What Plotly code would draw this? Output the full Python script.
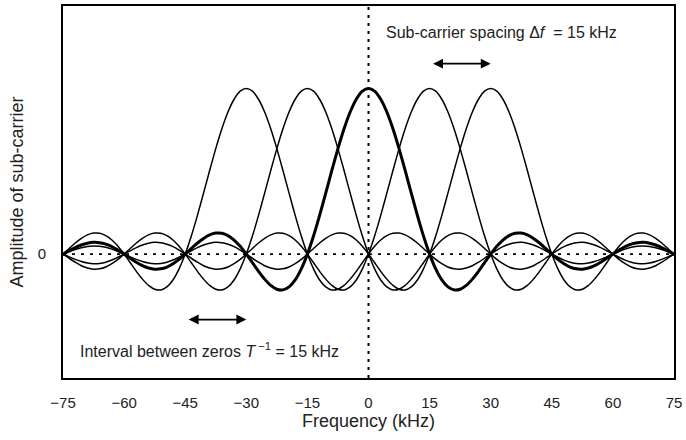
import plotly.graph_objects as go

# ---- data ----
carrier_centres_khz = [-30, -15, 0, 15, 30]
highlighted_centre_khz = 0
pulse_offset_step_khz = 1.5
# amplitude of one sub-carrier (peak = 1) at offsets 0, 1.5, 3, ... 105 kHz from its centre
pulse_amplitude_one_side = [
    1.000, 0.984, 0.935, 0.858, 0.757, 0.637, 0.505, 0.368, 0.234, 0.109,
    0.000, -0.089, -0.156, -0.198, -0.216, -0.212, -0.189, -0.151, -0.104, -0.052,
    0.000, 0.047, 0.085, 0.112, 0.126, 0.127, 0.116, 0.095, 0.067, 0.034,
    0.000, -0.032, -0.058, -0.078, -0.089, -0.091, -0.084, -0.070, -0.049, -0.025,
    0.000, 0.024, 0.045, 0.060, 0.069, 0.071, 0.066, 0.055, 0.039, 0.020,
    0.000, -0.019, -0.036, -0.049, -0.056, -0.058, -0.054, -0.045, -0.032, -0.017,
    0.000, 0.016, 0.030, 0.041, 0.047, 0.049, 0.046, 0.038, 0.028, 0.014,
    0.000,
]
x_tick_values = [-75, -60, -45, -30, -15, 0, 15, 30, 45, 60, 75]
x_tick_labels = ["\u221275", "\u221260", "\u221245", "\u221230", "\u221215",
                 "0", "15", "30", "45", "60", "75"]
spacing_arrow_khz = [15, 30]
zeros_arrow_khz = [-45, -30]

# ---- build symmetric pulse ----
n = len(pulse_amplitude_one_side)
offsets = [-(n - 1 - i) * pulse_offset_step_khz for i in range(n)] + \
          [i * pulse_offset_step_khz for i in range(1, n)]
amps = list(reversed(pulse_amplitude_one_side)) + pulse_amplitude_one_side[1:]

FONT = "Liberation Sans, Arial, sans-serif"
fig = go.Figure()

ordered = [c for c in carrier_centres_khz if c != highlighted_centre_khz] + [highlighted_centre_khz]
for c in ordered:
    thick = c == highlighted_centre_khz
    fig.add_trace(go.Scatter(
        x=[c + o for o in offsets], y=amps, mode="lines",
        line=dict(color="black", width=3 if thick else 1.5, shape="spline", smoothing=0.6),
        hoverinfo="skip", showlegend=False,
    ))

fig.add_hline(y=0, line=dict(color="black", width=1.6, dash="3px,6px"), layer="above")
fig.add_vline(x=0, line=dict(color="black", width=2, dash="3px,5px"), layer="above")

arrow_y_top = 1.15
arrow_y_bottom = -0.395
for (a, b), yy in [(spacing_arrow_khz, arrow_y_top), (zeros_arrow_khz, arrow_y_bottom)]:
    fig.add_annotation(x=b, y=yy, ax=a, ay=yy, xref="x", yref="y", axref="x", ayref="y",
                       text=" ", showarrow=True, arrowside="end+start", arrowhead=2,
                       arrowsize=1.1, arrowwidth=1.8, arrowcolor="black")

fig.add_annotation(x=3.7, y=1.34, xref="x", yref="y", xanchor="left", yanchor="middle",
                   text="Sub-carrier spacing \u0394<i>f</i>  = 15 kHz", showarrow=False,
                   font=dict(family=FONT, size=16, color="#222"))
fig.add_annotation(x=-71.4, y=-0.58, xref="x", yref="y", xanchor="left", yanchor="middle",
                   text="Interval between zeros <i>T</i><sup> \u22121</sup> = 15 kHz", showarrow=False,
                   font=dict(family=FONT, size=16, color="#222"))

fig.update_layout(
    width=686, height=440,
    margin=dict(l=63, r=6, t=4, b=62),
    paper_bgcolor="white", plot_bgcolor="white",
    font=dict(family=FONT, size=15, color="#222"),
    xaxis=dict(range=[-75, 75], tickvals=x_tick_values, ticktext=x_tick_labels,
               showgrid=False, zeroline=False, showline=True, mirror=True,
               linecolor="black", linewidth=2, ticks="", ticklabelstandoff=10,
               ticklabeloverflow="allow",
               title=dict(text="Frequency (kHz)", standoff=4)),
    yaxis=dict(range=[-0.748, 1.498], tickvals=[0], ticktext=["0"],
               showgrid=False, zeroline=False, showline=True, mirror=True,
               linecolor="black", linewidth=2, ticks="", ticklabelstandoff=12,
               title=dict(text="Amplitude of sub-carrier", standoff=9)),
)

fig.write_html("out.html", config={"displayModeBar": False},
               post_script="document.body.style.margin='0';")
